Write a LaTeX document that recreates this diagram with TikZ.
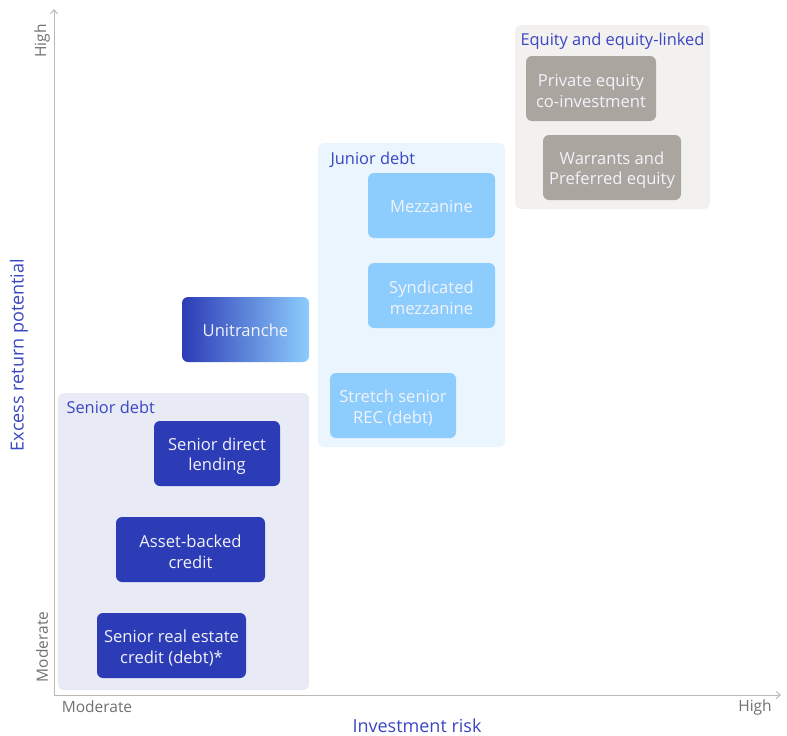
\documentclass[tikz,border=0pt]{standalone}
\usepackage{fontspec}
\setmainfont{Open Sans}
\usetikzlibrary{arrows.meta}
\definecolor{dkblue}{HTML}{2C3BB6}
\definecolor{ltblue}{HTML}{8DCDFD}
\definecolor{grey}{HTML}{ABA59F}
\definecolor{senbg}{HTML}{E8EAF6}
\definecolor{junbg}{HTML}{EAF5FE}
\definecolor{eqbg}{HTML}{F2F1F0}
\definecolor{labblue}{HTML}{3A46C2}
\definecolor{axisc}{HTML}{BDB8B3}
\definecolor{axtext}{HTML}{707070}
\definecolor{boxtext}{HTML}{F2F3FA}
\tikzset{
  grp/.style={rounded corners=6pt},
  itembox/.style={rounded corners=6pt, text=boxtext, align=center, font=\fontsize{16.6}{20.5}\selectfont},
  grplabel/.style={anchor=west, text=labblue, font=\fontsize{16.4}{18}\selectfont},
  axlab/.style={text=axtext, font=\fontsize{15.5}{17}\selectfont},
}
\begin{document}
\begin{tikzpicture}[x=1pt,y=-1pt]
\useasboundingbox (0,0) rectangle (787,736);
% group backgrounds
\fill[grp, senbg] (58,393) rectangle (309,690);
\fill[grp, junbg] (318,143) rectangle (505,447);
\fill[grp, eqbg] (515,25) rectangle (710,209);
\node[grplabel] (lsen) at (63,407) {Senior debt};
\node[grplabel] (ljun) at (327,160) {Junior debt};
\node[grplabel] (leq) at (517,41) {Equity and equity-linked};
% axes
\coordinate (o) at (54,695);
\coordinate (ytop) at (54,9);
\coordinate (xend) at (781,695);
\draw[axisc, line width=1pt, -{Straight Barb[length=4pt,width=7pt]}] (o) -- (ytop);
\draw[axisc, line width=1pt, -{Straight Barb[length=4pt,width=7pt]}] (o) -- (xend);
\node[axlab, rotate=90] (yhigh) at (42,41) {High};
\node[axlab, rotate=90] (ymod) at (42,647) {Moderate};
\node[axlab] (xmod) at (97,707) {Moderate};
\node[axlab] (xhigh) at (755,707) {High};
\node[text=labblue, font=\fontsize{18}{20}\selectfont] (xt) at (417,726) {Investment risk};
\node[text=labblue, font=\fontsize{18}{20}\selectfont, rotate=90] (yt) at (19,355) {Excess return potential};
% senior debt items
\fill[grp, dkblue] (154,421) rectangle (280,486);
\node[itembox] (sdl) at (217,456) {Senior direct\\lending};
\fill[grp, dkblue] (116,517) rectangle (265,582);
\node[itembox] (abc) at (190.5,552) {Asset-backed\\credit};
\fill[grp, dkblue] (97,613) rectangle (246,678);
\node[itembox] (srec) at (171.5,648) {Senior real estate\\credit (debt)*};
% unitranche
\shade[grp, left color=dkblue, right color=ltblue] (182,297) rectangle (309,362);
\node[itembox] (uni) at (245.5,330) {Unitranche};
% junior
\fill[grp, ltblue] (368,173) rectangle (495,238);
\node[itembox] (mez) at (431.5,206) {Mezzanine};
\fill[grp, ltblue] (368,263) rectangle (495,328);
\node[itembox] (smez) at (431.5,298) {Syndicated\\mezzanine};
\fill[grp, ltblue] (330,373) rectangle (456,438);
\node[itembox] (ss) at (393,408) {Stretch senior\\REC (debt)};
% equity
\fill[grp, grey] (526,56) rectangle (656,121);
\node[itembox] (pe) at (591,91) {Private equity\\co-investment};
\fill[grp, grey] (543,135) rectangle (681,200);
\node[itembox] (wp) at (612,170) {Warrants and\\Preferred equity};
\end{tikzpicture}
\end{document}
